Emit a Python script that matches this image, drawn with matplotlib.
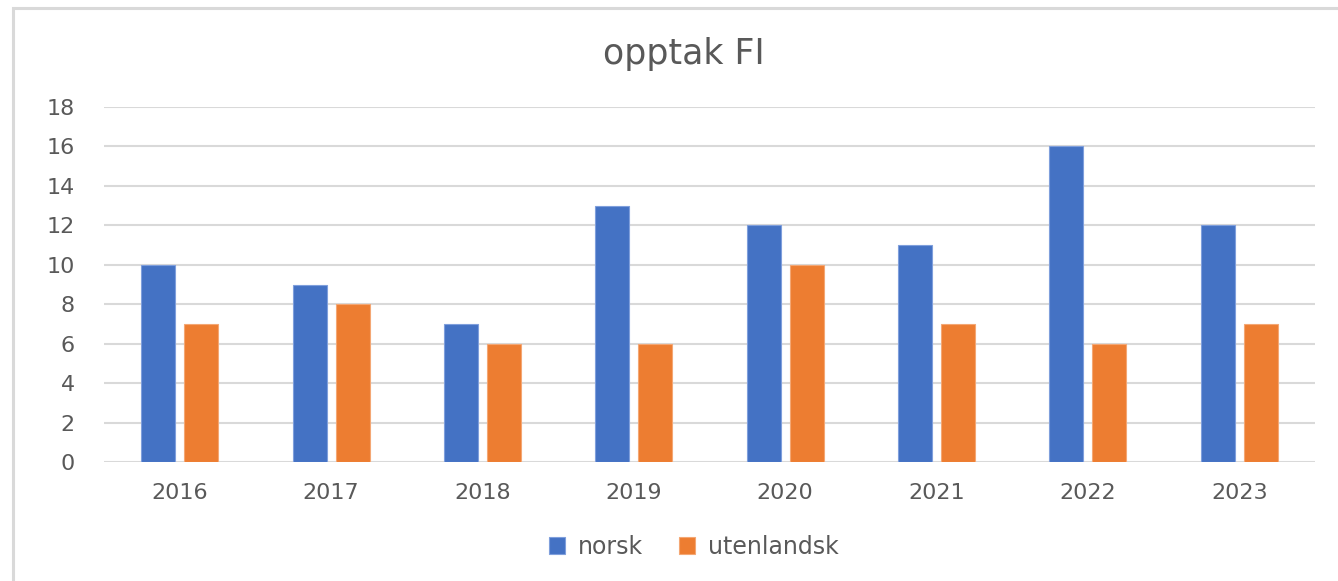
import numpy as np
import matplotlib
matplotlib.use('Agg')
import matplotlib.pyplot as plt
from matplotlib.patches import Rectangle

# data
years = ['2016', '2017', '2018', '2019', '2020', '2021', '2022', '2023']
norsk = [10, 9, 7, 13, 12, 11, 16, 12]
utenlandsk = [7, 8, 6, 6, 10, 7, 6, 7]

plt.rcParams['font.family'] = ['DejaVu Sans']

fig = plt.figure(figsize=(13.38, 5.81), dpi=100)
ax = fig.add_axes([104 / 1338, 0.2048, 1211 / 1338, 0.611])

x = np.arange(len(years))
w = 0.225
off = 0.142
ax.bar(x - off, norsk, w, color='#4472c4', edgecolor='#7f9fdc', linewidth=0.8, label='norsk', zorder=3)
ax.bar(x + off, utenlandsk, w, color='#ed7d31', edgecolor='#f4a774', linewidth=0.8, label='utenlandsk', zorder=3)

ax.set_xlim(-0.5, len(years) - 0.5)
ax.set_ylim(0, 18)
ax.set_yticks(range(0, 19, 2))
ax.set_xticks(x)
ax.set_xticklabels(years)
ax.yaxis.grid(True, color='#d9d9d9', linewidth=1.5, zorder=0)
ax.set_axisbelow(True)
for s in ax.spines.values():
    s.set_visible(False)
ax.tick_params(axis='both', length=0, labelsize=16, labelcolor='#595959')
ax.tick_params(axis='x', pad=15)
ax.tick_params(axis='y', pad=21)

fig.text(0.511, 0.907, 'opptak FI', ha='center', va='center', fontsize=25, color='#595959')

leg = ax.legend(loc='center', bbox_to_anchor=(0.487, -0.239), ncol=2, frameon=False,
                fontsize=17, handlelength=0.7, handleheight=0.7, handletextpad=0.55,
                columnspacing=1.5, labelcolor='#595959')

# outer chart border (only left and top visible in the crop)
fig.patches.append(Rectangle((13 / 1338, -0.1), 1.2, 1 - 8 / 581 + 0.1, transform=fig.transFigure,
                             fill=False, edgecolor='#d9d9d9', linewidth=2.2))

fig.savefig('out.png', dpi=100)
